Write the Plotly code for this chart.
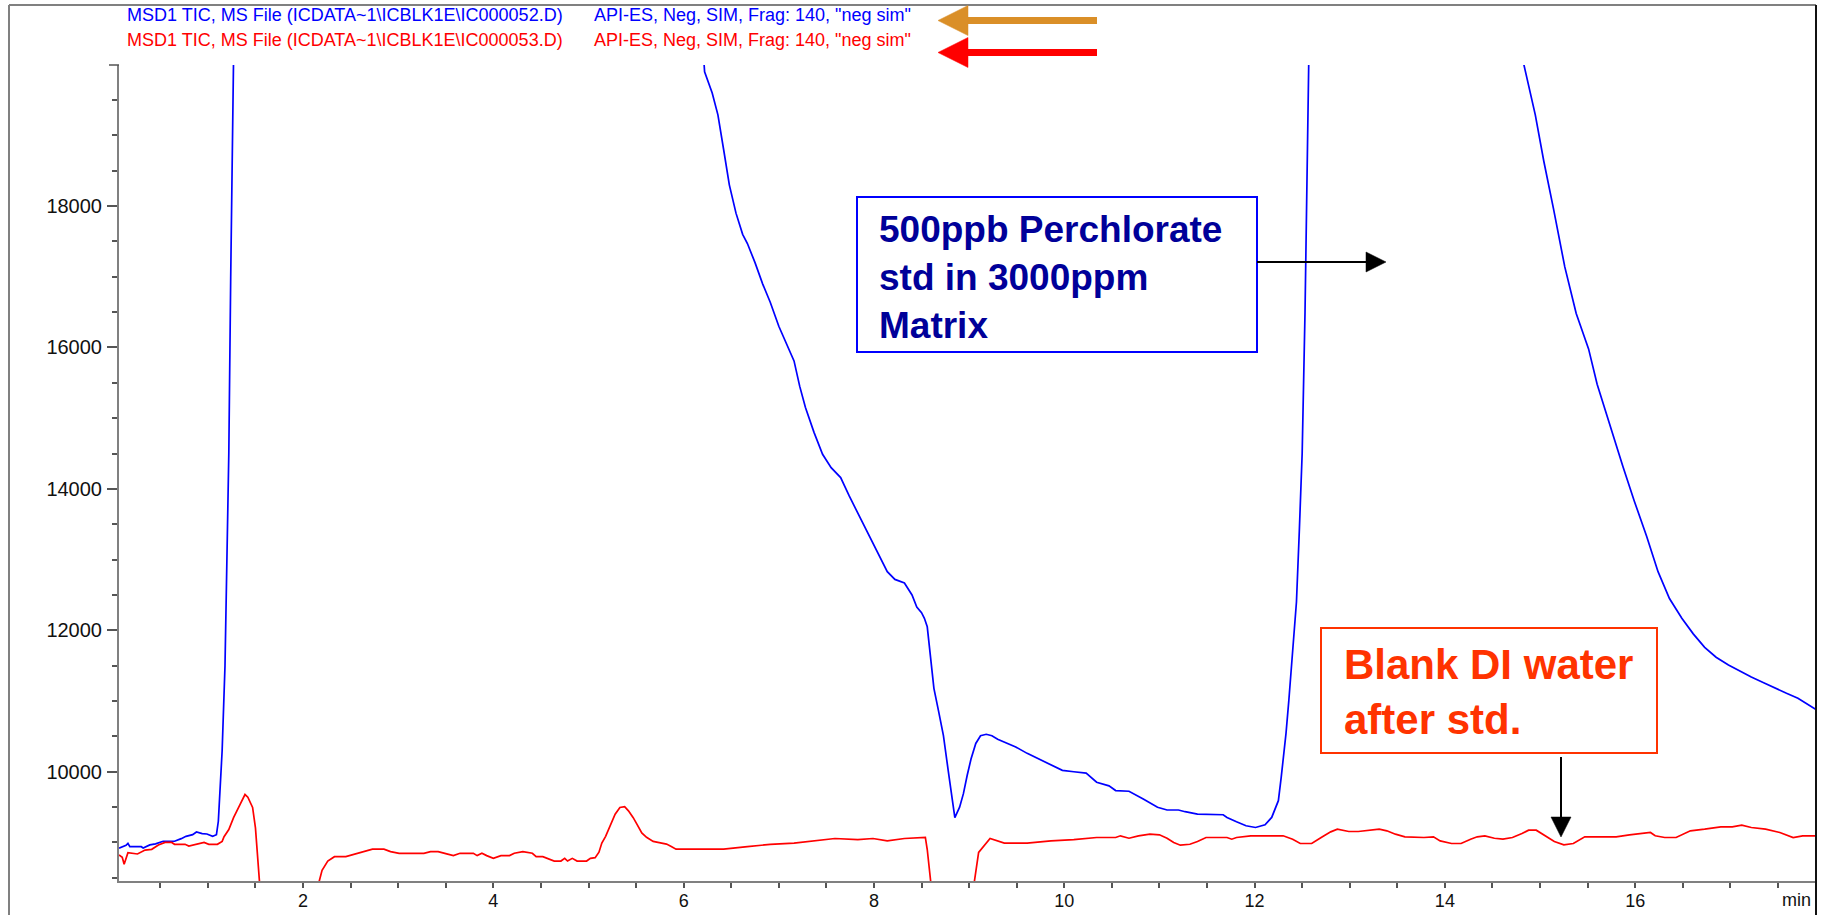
import plotly.graph_objects as go

# ---- chromatogram data: retention time (min) vs. total ion current ----
# None entries break the trace where it runs off the plotted range.
std_time = [0.066, 0.14, 0.16, 0.18, 0.30, 0.32, 0.39, 0.45, 0.53, 0.65, 0.72, 0.77, 0.84, 0.88,
            0.94, 0.99, 1.05, 1.09, 1.11, 1.13, 1.15, 1.18, 1.20, 1.22, 1.24, 1.26, 1.27, None,
            6.21, 6.22, 6.30, 6.36, 6.42, 6.48, 6.55, 6.62, 6.67, 6.75, 6.83, 6.91, 7.00, 7.08,
            7.16, 7.22, 7.28, 7.37, 7.46, 7.55, 7.65, 7.74, 7.83, 7.91, 7.99, 8.06, 8.14, 8.22,
            8.32, 8.40, 8.45, 8.50, 8.53, 8.56, 8.57, 8.60, 8.63, 8.68, 8.73, 8.78, 8.81, 8.85,
            8.90, 8.94, 8.98, 9.02, 9.07, 9.12, 9.18, 9.24, 9.30, 9.37, 9.49, 9.61, 9.73, 9.85,
            9.98, 10.10, 10.23, 10.34, 10.47, 10.54, 10.68, 10.83, 10.98, 11.08, 11.20, 11.27,
            11.40, 11.67, 11.71, 11.81, 11.91, 12.01, 12.11, 12.18, 12.25, 12.28, 12.33, 12.36,
            12.40, 12.44, 12.47, 12.50, 12.53, 12.56, 12.57, None,
            14.82, 14.83, 14.95, 15.04, 15.14, 15.26, 15.38, 15.51, 15.60, 15.75, 15.87, 15.99,
            16.12, 16.24, 16.36, 16.49, 16.61, 16.73, 16.85, 16.98, 17.10, 17.22, 17.35, 17.47,
            17.59, 17.71, 17.82, 17.90]
std_tic = [8920, 8960, 8988, 8940, 8940, 8922, 8965, 8980, 9017, 9017, 9054, 9087, 9110, 9148,
           9125, 9120, 9087, 9110, 9300, 9800, 10300, 11500, 12800, 14500, 17000, 19000, 20100, None,
           20100, 19900, 19600, 19290, 18800, 18300, 17900, 17600, 17470, 17200, 16900, 16640, 16300, 16050,
           15810, 15450, 15150, 14800, 14490, 14300, 14160, 13900, 13660, 13450, 13250, 13050, 12830, 12720,
           12670, 12500, 12330, 12250, 12170, 12050, 11920, 11500, 11180, 10850, 10510, 10020, 9700, 9350,
           9500, 9690, 9950, 10180, 10400, 10510, 10530, 10510, 10460, 10420, 10350, 10260, 10180, 10100,
           10020, 10000, 9980, 9852, 9800, 9734, 9724, 9615, 9497, 9459, 9459, 9435,
           9402, 9392, 9354, 9293, 9236, 9212, 9250, 9354, 9591, 9923, 10540, 11010,
           11700, 12400, 13400, 14500, 16500, 19500, 20100, None,
           20100, 20000, 19290, 18630, 17970, 17140, 16480, 15980, 15480, 14820, 14320, 13830,
           13330, 12830, 12450, 12170, 11950, 11760, 11620, 11510, 11420, 11340, 11260, 11180,
           11110, 11040, 10950, 10880]

blank_time = [0.066, 0.10, 0.12, 0.16, 0.26, 0.34, 0.41, 0.48, 0.55, 0.62, 0.65, 0.76, 0.80, 0.89,
              0.96, 1.01, 1.10, 1.15, 1.17, 1.22, 1.27, 1.34, 1.39, 1.42, 1.47, 1.50, 1.545, None,
              2.16, 2.20, 2.26, 2.33, 2.45, 2.54, 2.64, 2.73, 2.85, 2.92, 3.01, 3.27, 3.34, 3.42,
              3.51, 3.58, 3.65, 3.79, 3.83, 3.88, 3.93, 4.00, 4.08, 4.17, 4.22, 4.31, 4.41, 4.45,
              4.52, 4.59, 4.64, 4.71, 4.75, 4.78, 4.83, 4.88, 4.98, 5.02, 5.07, 5.11, 5.14, 5.18,
              5.23, 5.28, 5.33, 5.38, 5.42, 5.47, 5.51, 5.56, 5.61, 5.68, 5.73, 5.82, 5.87, 5.92,
              6.01, 6.42, 6.67, 6.91, 7.16, 7.40, 7.59, 7.83, 7.99, 8.14, 8.32, 8.54, 8.56, 8.60, None,
              9.05, 9.10, 9.22, 9.37, 9.61, 9.86, 10.10, 10.34, 10.54, 10.59, 10.68, 10.78, 10.90,
              11.00, 11.08, 11.15, 11.22, 11.32, 11.40, 11.49, 11.71, 11.76, 11.81, 11.96, 12.30,
              12.40, 12.48, 12.60, 12.70, 12.80, 12.87, 12.99, 13.09, 13.19, 13.31, 13.39, 13.48,
              13.58, 13.78, 13.88, 13.95, 14.07, 14.17, 14.27, 14.34, 14.42, 14.52, 14.61, 14.71,
              14.81, 14.88, 14.96, 15.06, 15.15, 15.25, 15.35, 15.47, 15.65, 15.80, 15.94, 16.06,
              16.16, 16.21, 16.31, 16.43, 16.58, 16.73, 16.90, 17.02, 17.12, 17.22, 17.37, 17.52,
              17.66, 17.76, 17.90]
blank_tic = [8823, 8790, 8691, 8856, 8837, 8893, 8903, 8964, 9000, 9000, 8974, 8974, 8950, 8974,
             9000, 8974, 8974, 9015, 9082, 9183, 9351, 9543, 9678, 9640, 9495, 9207, 8400, None,
             8400, 8607, 8737, 8799, 8799, 8833, 8871, 8905, 8905, 8871, 8847, 8847, 8871, 8871,
             8838, 8814, 8847, 8847, 8814, 8847, 8814, 8775, 8814, 8814, 8847, 8871, 8847, 8799,
             8799, 8766, 8737, 8737, 8775, 8737, 8775, 8737, 8737, 8775, 8785, 8862, 8991, 9087,
             9231, 9399, 9495, 9505, 9447, 9351, 9255, 9135, 9073, 9015, 9001, 8977, 8943, 8905,
             8905, 8907, 8940, 8973, 8990, 9023, 9056, 9040, 9056, 9023, 9056, 9073, 8900, 8400, None,
             8400, 8860, 9056, 8990, 8990, 9023, 9040, 9070, 9070, 9094, 9060, 9094, 9117,
             9108, 9060, 8999, 8961, 8975, 9013, 9070, 9070, 9046, 9070, 9094, 9094,
             9046, 8985, 8985, 9070, 9150, 9188, 9155, 9155, 9174, 9188, 9165, 9117,
             9080, 9070, 9080, 9022, 8985, 8985, 9046, 9080, 9094, 9060, 9046, 9070,
             9126, 9174, 9174, 9094, 9013, 8966, 8985, 9080, 9080, 9080, 9108, 9126,
             9141, 9094, 9070, 9070, 9165, 9188, 9221, 9221, 9245, 9212, 9188, 9141,
             9070, 9094, 9094]

std_label = r"MSD1 TIC, MS File (ICDATA~1\ICBLK1E\IC000052.D)"
blank_label = r"MSD1 TIC, MS File (ICDATA~1\ICBLK1E\IC000053.D)"
method_label = 'API-ES, Neg, SIM, Frag: 140, "neg sim"'

x_range = [0.066, 17.90]
y_range = [8455, 19995]

# ---- page geometry ----
W_PAGE, H_PAGE = 1827, 915
M_L, M_R, M_T, M_B = 119, 11, 65, 34
PW = W_PAGE - M_L - M_R
PH = H_PAGE - M_T - M_B


def px(x):
    """page pixel column -> paper x"""
    return (x - M_L) / PW


def py(y):
    """page pixel row -> paper y"""
    return (H_PAGE - M_B - y) / PH


FONT = "Liberation Sans, Arial, Helvetica, sans-serif"
BLUE = "#0000FF"
RED = "#FF0000"
NAVY = "#000099"
ORANGE_RED = "#FF3300"
AXIS_GRAY = "#808080"
Y_TICK_FONT = dict(family=FONT, size=20, color="#111111")
X_TICK_FONT = dict(family=FONT, size=18, color="#111111")

fig = go.Figure()
fig.add_trace(go.Scatter(x=std_time, y=std_tic, mode="lines",
                         line=dict(color=BLUE, width=1.7), name="std", connectgaps=False))
fig.add_trace(go.Scatter(x=blank_time, y=blank_tic, mode="lines",
                         line=dict(color=RED, width=1.7), name="blank", connectgaps=False))

shapes = []
annotations = []

# outer frame: grey left/top, black right edge
shapes.append(dict(type="line", xref="paper", yref="paper", x0=px(9), x1=px(9), y0=py(5), y1=py(915),
                   line=dict(color=AXIS_GRAY, width=2)))
shapes.append(dict(type="line", xref="paper", yref="paper", x0=px(9), x1=px(1816), y0=py(5), y1=py(5),
                   line=dict(color=AXIS_GRAY, width=2)))
shapes.append(dict(type="line", xref="paper", yref="paper", x0=px(1816), x1=px(1816), y0=py(5), y1=py(915),
                   line=dict(color="#111111", width=2)))
# cap at the top of the y axis
shapes.append(dict(type="line", xref="paper", yref="paper", x0=px(109), x1=px(119), y0=1, y1=1,
                   line=dict(color="#555555", width=1.5)))

# trace titles
for label, color, yy in [(std_label, BLUE, 15), (blank_label, RED, 40)]:
    annotations.append(dict(text=label, xref="paper", yref="paper", x=px(125), y=py(yy),
                            xanchor="left", yanchor="middle", showarrow=False,
                            font=dict(family=FONT, size=18, color=color)))
    annotations.append(dict(text=method_label, xref="paper", yref="paper", x=px(592), y=py(yy),
                            xanchor="left", yanchor="middle", showarrow=False,
                            font=dict(family=FONT, size=18, color=color)))


def arrow(x_tail, y_tail, x_tip, y_tip, color, width, head_len, head_half):
    """straight arrow in page pixels: shaft + filled triangular head"""
    dx, dy = x_tip - x_tail, y_tip - y_tail
    n = (dx * dx + dy * dy) ** 0.5
    ux, uy = dx / n, dy / n
    bx, by = x_tip - ux * head_len, y_tip - uy * head_len
    shapes.append(dict(type="line", xref="paper", yref="paper",
                       x0=px(x_tail), y0=py(y_tail), x1=px(bx + ux * 1), y1=py(by + uy * 1),
                       line=dict(color=color, width=width)))
    p1 = (bx - uy * head_half, by + ux * head_half)
    p2 = (bx + uy * head_half, by - ux * head_half)
    path = "M {:.5f},{:.5f} L {:.5f},{:.5f} L {:.5f},{:.5f} Z".format(
        px(x_tip), py(y_tip), px(p1[0]), py(p1[1]), px(p2[0]), py(p2[1]))
    shapes.append(dict(type="path", xref="paper", yref="paper", path=path,
                       fillcolor=color, line=dict(color=color, width=0.5)))


# arrows beside the trace titles
arrow(1097, 20.5, 938, 20.5, "#DA8F28", 7, 30, 15)
arrow(1097, 52.5, 938, 52.5, RED, 7, 30, 15)

# callout: standard
shapes.append(dict(type="rect", xref="paper", yref="paper", x0=px(857), x1=px(1257), y0=py(197), y1=py(352),
                   line=dict(color=BLUE, width=2), fillcolor="rgba(0,0,0,0)"))
annotations.append(dict(text="500ppb Perchlorate<br>std in 3000ppm<br>Matrix", xref="paper", yref="paper",
                        x=px(877), y=py(277), xanchor="left", yanchor="middle", align="left",
                        showarrow=False, font=dict(family=FONT, size=37, color=NAVY, weight="bold")))
arrow(1257, 262, 1386, 262, "#000000", 2, 20, 10)

# callout: blank
shapes.append(dict(type="rect", xref="paper", yref="paper", x0=px(1321), x1=px(1657), y0=py(628), y1=py(753),
                   line=dict(color=ORANGE_RED, width=2), fillcolor="rgba(0,0,0,0)"))
annotations.append(dict(text="Blank DI water<br>after std.", xref="paper", yref="paper",
                        x=px(1342), y=py(692), xanchor="left", yanchor="middle", align="left",
                        showarrow=False, font=dict(family=FONT, size=42, color=ORANGE_RED, weight="bold")))
arrow(1561, 757, 1561, 837, "#000000", 2, 20, 10)

# axis unit label at the end of the time axis
annotations.append(dict(text="min", xref="paper", yref="paper", x=px(1813), y=py(900),
                        xanchor="right", yanchor="middle", showarrow=False, font=X_TICK_FONT))

fig.update_layout(
    width=W_PAGE, height=H_PAGE,
    margin=dict(l=M_L, r=M_R, t=M_T, b=M_B, pad=0, autoexpand=False),
    paper_bgcolor="white", plot_bgcolor="white",
    showlegend=False,
    font=dict(family=FONT, size=18, color="#111111"),
    shapes=shapes, annotations=annotations,
    xaxis=dict(range=x_range, automargin=False, showgrid=False, zeroline=False, showline=True,
               linecolor=AXIS_GRAY, linewidth=2,
               ticks="outside", ticklen=5, tickwidth=1.5, tickcolor="#555555",
               tick0=0, dtick=2, ticklabelstandoff=-3, tickfont=X_TICK_FONT,
               minor=dict(dtick=0.5, tick0=0, ticks="outside", ticklen=5, tickwidth=1.5,
                          tickcolor="#555555", showgrid=False)),
    yaxis=dict(range=y_range, automargin=False, showgrid=False, zeroline=False, showline=True,
               linecolor=AXIS_GRAY, linewidth=2,
               ticks="outside", ticklen=10, tickwidth=1.5, tickcolor="#555555",
               tick0=0, dtick=2000, tickformat="d", ticklabelstandoff=1, tickfont=Y_TICK_FONT,
               minor=dict(dtick=500, tick0=0, ticks="outside", ticklen=5, tickwidth=1.5,
                          tickcolor="#555555", showgrid=False)),
)

fig.write_html("out.html")
